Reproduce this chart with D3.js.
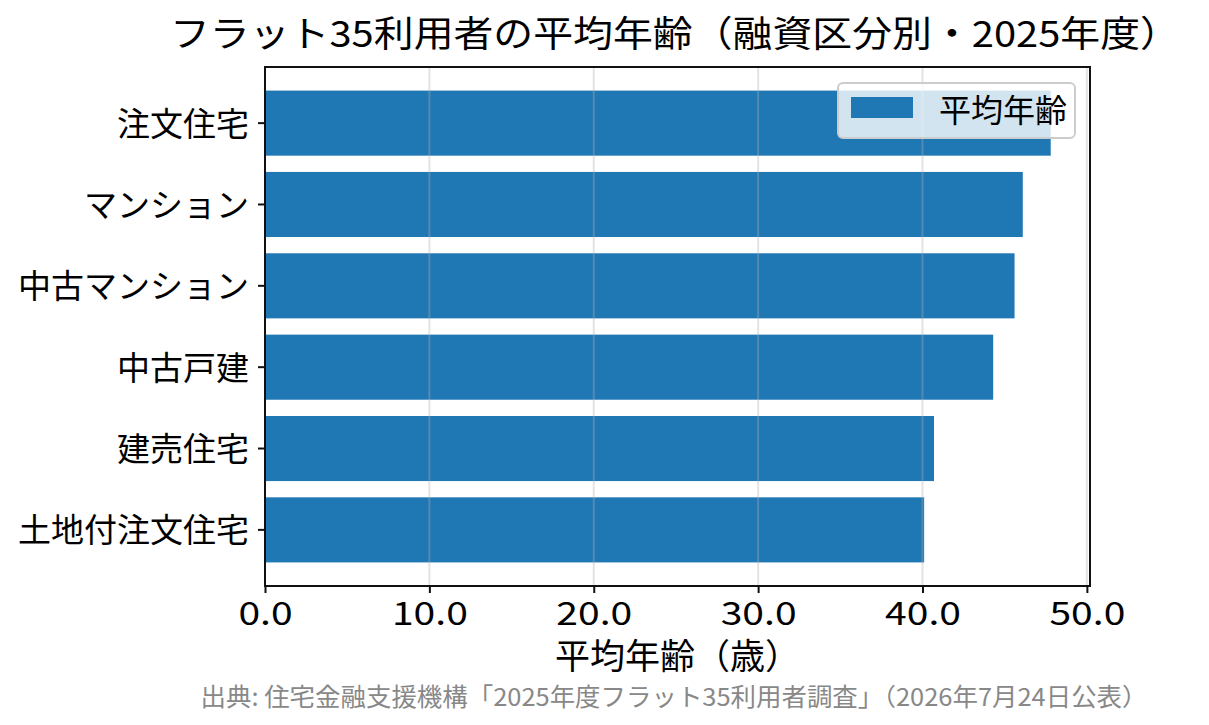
<!DOCTYPE html>
<html>
<head>
<meta charset="utf-8">
<script src="https://cdn.jsdelivr.net/npm/d3@7"></script>
<style>
  body { margin: 0; background: #fff; }
  text { font-family: "Noto Sans CJK JP", "Noto Sans", sans-serif; }
</style>
</head>
<body>
<svg width="1209" height="725"></svg>
<script>
const categories = ['注文住宅', 'マンション', '中古マンション', '中古戸建', '建売住宅', '土地付注文住宅']
const ages = [47.8, 46.1, 45.6, 44.3, 40.7, 40.1]
const xTicks = [0, 10, 20, 30, 40, 50]

const titleText = 'フラット35利用者の平均年齢（融資区分別・2025年度）'
const xLabelText = '平均年齢（歳）'
const legendText = '平均年齢'
const sourceText = '出典: 住宅金融支援機構「2025年度フラット35利用者調査」（2026年7月24日公表）'

const svg = d3.select('svg')
const width = +svg.attr('width')
const height = +svg.attr('height')

const margin = { top: 67, right: 119, bottom: 139, left: 265 }
const innerWidth = width - margin.left - margin.right
const innerHeight = height - margin.top - margin.bottom
const barColor = '#1f77b4'

const xScale = d3.scaleLinear()
  .domain([0, d3.max(ages) * 1.05])
  .range([0, innerWidth])

const yScale = d3.scaleBand()
  .domain(categories)
  .range([0, innerHeight])
  .paddingInner(0.2)
  .paddingOuter(0.29)

const g = svg.append('g')
  .attr('transform', `translate(${margin.left}, ${margin.top})`)

// bars
g.selectAll('rect.bar').data(categories)
  .enter().append('rect')
  .attr('class', 'bar')
  .attr('x', 0)
  .attr('y', d => yScale(d))
  .attr('width', (d, i) => xScale(ages[i]))
  .attr('height', yScale.bandwidth())
  .attr('fill', barColor)

// vertical grid, drawn over the bars
g.append('g')
  .selectAll('line').data(xTicks)
  .enter().append('line')
  .attr('x1', d => xScale(d))
  .attr('x2', d => xScale(d))
  .attr('y1', 0)
  .attr('y2', innerHeight)
  .attr('stroke', '#b0b0b0')
  .attr('stroke-opacity', 0.35)
  .attr('stroke-width', 2)

// frame
g.append('rect')
  .attr('width', innerWidth)
  .attr('height', innerHeight)
  .attr('fill', 'none')
  .attr('stroke', '#111')
  .attr('stroke-width', 2)

const xAxis = d3.axisBottom(xScale)
  .tickValues(xTicks)
  .tickFormat(d3.format('.1f'))
  .tickSize(7)
  .tickSizeOuter(0)
  .tickPadding(9)

const xAxisG = g.append('g')
  .attr('transform', `translate(0, ${innerHeight})`)
  .call(xAxis)
xAxisG.select('.domain').remove()
xAxisG.selectAll('line').attr('stroke', '#111').attr('stroke-width', 2)
xAxisG.selectAll('text')
  .attr('fill', '#000')
  .attr('transform', 'scale(1.22,1)')
  .style('font-size', '32px')

const yAxis = d3.axisLeft(yScale)
  .tickSize(7)
  .tickSizeOuter(0)
  .tickPadding(9)

const yAxisG = g.append('g').call(yAxis)
yAxisG.select('.domain').remove()
yAxisG.selectAll('line').attr('stroke', '#111').attr('stroke-width', 2)
yAxisG.selectAll('text')
  .attr('fill', '#000')
  .attr('dy', '0.38em')
  .style('font-size', '33px')

// legend
const legend = g.append('g')
  .attr('transform', `translate(${xScale.range()[1] - 252}, 16)`)
legend.append('rect')
  .attr('width', 237)
  .attr('height', 55)
  .attr('rx', 5)
  .attr('fill', '#fff')
  .attr('fill-opacity', 0.8)
  .attr('stroke', '#cccccc')
  .attr('stroke-width', 2)
legend.append('rect')
  .attr('x', 13)
  .attr('y', 14)
  .attr('width', 62)
  .attr('height', 21)
  .attr('fill', barColor)
legend.append('text')
  .attr('x', 101)
  .attr('y', 27)
  .attr('dy', '0.38em')
  .style('font-size', '32px')
  .attr('fill', '#000')
  .text(legendText)

// texts
svg.append('text')
  .attr('x', 675)
  .attr('y', 47)
  .attr('text-anchor', 'middle')
  .attr('textLength', 1010)
  .attr('lengthAdjust', 'spacingAndGlyphs')
  .style('font-size', '36px')
  .attr('fill', '#000')
  .text(titleText)

svg.append('text')
  .attr('x', margin.left + innerWidth / 2)
  .attr('y', 669)
  .attr('text-anchor', 'middle')
  .style('font-size', '35px')
  .attr('fill', '#000')
  .text(xLabelText)

svg.append('text')
  .attr('x', 674)
  .attr('y', 706)
  .attr('text-anchor', 'middle')
  .attr('textLength', 947)
  .attr('lengthAdjust', 'spacingAndGlyphs')
  .style('font-size', '24.5px')
  .attr('fill', '#888')
  .text(sourceText)
</script>
</body>
</html>
